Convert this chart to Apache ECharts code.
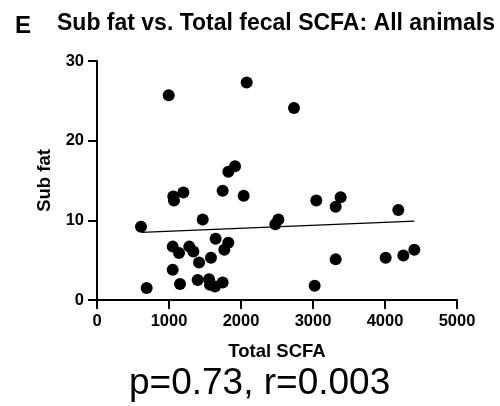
<!DOCTYPE html>
<html>
<head>
<meta charset="utf-8">
<script src="https://cdn.jsdelivr.net/npm/echarts@6/dist/echarts.min.js"></script>
<style>
  html, body { margin: 0; padding: 0; background: #fff; }
  #chart { width: 500px; height: 406px; }
</style>
</head>
<body>
<div id="chart"></div>
<script>
// total SCFA (x) vs sub fat (y)
var scfa = [996, 2079, 611, 690, 1060, 1069, 1199, 1745, 1824, 1917, 2037, 1468,
    2477, 2519, 1051, 1139, 1282, 1338, 1417, 1583, 1648, 1824, 1768, 1051,
    1153, 1398, 1556, 1569, 1639, 1745,
    2736, 3046, 3384, 3315, 4185, 3315, 4009, 4255, 4407, 3023];
var subFat = [25.7, 27.3, 9.2, 1.5, 13.0, 12.5, 13.5, 13.7, 16.1, 16.8, 13.1, 10.1,
    9.5, 10.1, 6.7, 5.9, 6.7, 6.1, 4.7, 5.3, 7.7, 7.2, 6.3, 3.8,
    2.0, 2.5, 2.6, 1.9, 1.7, 2.2,
    24.1, 12.5, 12.9, 11.7, 11.3, 5.1, 5.3, 5.6, 6.3, 1.8];

// fitted line end points
var fitX = [620, 4407];
var fitY = [8.5, 9.9];

var xTicks = [0, 1000, 2000, 3000, 4000, 5000];
var yTicks = [0, 10, 20, 30];

var font = 'Liberation Sans, Arial, sans-serif';

var points = [];
for (var i = 0; i < scfa.length; i++) points.push([scfa[i], subFat[i]]);
var fitLine = [[fitX[0], fitY[0]], [fitX[1], fitY[1]]];

function plain(v) { return String(v); }

var myChart = echarts.init(document.getElementById('chart'));
myChart.setOption({
    animation: false,
    backgroundColor: '#fff',
    grid: { left: 97, right: 43, top: 61, bottom: 106 },
    graphic: [
        { type: 'text', left: 15, top: 14,
          style: { text: 'E', font: 'bold 24px ' + font, fill: '#000' } },
        { type: 'text', left: 57, top: 12,
          style: { text: 'Sub fat vs. Total fecal SCFA: All animals', font: 'bold 23px ' + font, fill: '#000' } },
        { type: 'text', left: 129, top: 365,
          style: { text: 'p=0.73, r=0.003', font: '37px ' + font, fill: '#000' } }
    ],
    xAxis: {
        type: 'value', min: xTicks[0], max: xTicks[xTicks.length - 1], interval: 1000,
        name: 'Total SCFA', nameLocation: 'middle', nameGap: 42,
        nameTextStyle: { fontFamily: font, fontWeight: 'bold', fontSize: 18.5, color: '#000' },
        axisLine: { lineStyle: { color: '#000', width: 2 } },
        axisTick: { show: true, length: 9, lineStyle: { color: '#000', width: 2 } },
        axisLabel: { fontFamily: font, fontWeight: 'bold', fontSize: 16.5, color: '#000', margin: 13, formatter: plain },
        splitLine: { show: false }
    },
    yAxis: {
        type: 'value', min: yTicks[0], max: yTicks[yTicks.length - 1], interval: 10,
        name: 'Sub fat', nameLocation: 'middle', nameGap: 41, nameRotate: 90,
        nameTextStyle: { fontFamily: font, fontWeight: 'bold', fontSize: 18.5, color: '#000' },
        axisLine: { show: true, lineStyle: { color: '#000', width: 2 } },
        axisTick: { show: true, length: 9, lineStyle: { color: '#000', width: 2 } },
        axisLabel: { fontFamily: font, fontWeight: 'bold', fontSize: 16.5, color: '#000', margin: 13, formatter: plain },
        splitLine: { show: false }
    },
    series: [
        {
            type: 'line', data: fitLine, symbol: 'none', silent: true,
            lineStyle: { color: '#000', width: 1.2 }, z: 1
        },
        {
            type: 'scatter', data: points, symbol: 'circle', symbolSize: 12,
            itemStyle: { color: '#000', opacity: 1 }, z: 2
        }
    ]
});
</script>
</body>
</html>
